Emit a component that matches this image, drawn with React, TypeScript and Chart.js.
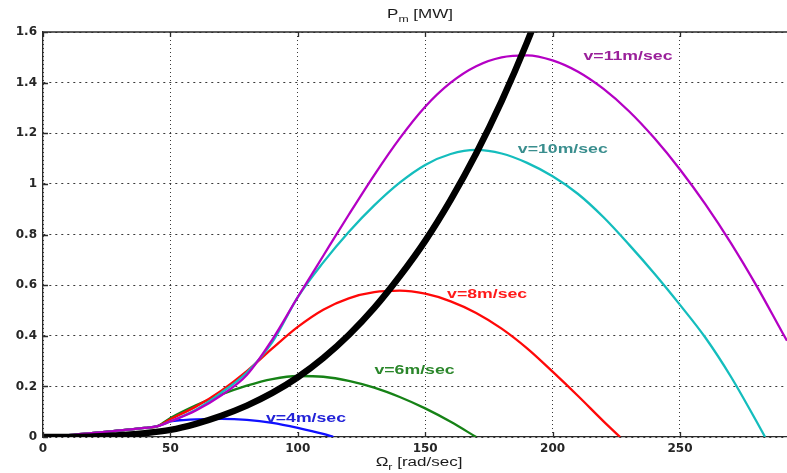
import { useEffect, useRef } from "react";
import { Chart, registerables } from "chart.js";

Chart.register(...registerables);

// ---- data ----
const optOmega = [0, 10, 20, 30, 40, 50, 60, 70, 80, 90, 100, 110, 120, 130, 140, 150, 160, 170, 180, 190, 200];
const optPower = [0, 0.0003, 0.002, 0.007, 0.015, 0.028, 0.052, 0.084, 0.124, 0.174, 0.236, 0.312, 0.403, 0.51, 0.635, 0.775, 0.937, 1.12, 1.327, 1.56, 1.82];

const v4Omega = [0, 10, 20, 30, 40, 45, 50, 55, 60, 70, 80, 90, 100, 110, 114];
const v4Power = [0, 0.007, 0.016, 0.026, 0.036, 0.043, 0.062, 0.067, 0.07, 0.072, 0.068, 0.056, 0.036, 0.012, 0];

const v6Omega = [0, 10, 20, 30, 40, 45, 50, 60, 70, 80, 90, 100, 110, 120, 130, 140, 150, 160, 170];
const v6Power = [0, 0.007, 0.016, 0.026, 0.036, 0.043, 0.075, 0.125, 0.168, 0.203, 0.229, 0.241, 0.238, 0.222, 0.195, 0.158, 0.113, 0.06, 0];

const v8Omega = [0, 10, 20, 30, 40, 45, 50, 60, 70, 80, 90, 100, 110, 120, 130, 140, 150, 160, 170, 180, 190, 200, 210, 220, 226.5];
const v8Power = [0, 0.007, 0.016, 0.026, 0.036, 0.043, 0.07, 0.12, 0.183, 0.26, 0.35, 0.435, 0.503, 0.548, 0.572, 0.578, 0.566, 0.536, 0.49, 0.428, 0.35, 0.258, 0.162, 0.062, 0];

const v10Omega = [0, 10, 20, 30, 40, 45, 50, 60, 70, 80, 90, 100, 110, 120, 130, 140, 150, 160, 170, 180, 190, 200, 210, 220, 230, 240, 250, 260, 270, 280, 283.4];
const v10Power = [0, 0.007, 0.016, 0.026, 0.036, 0.043, 0.062, 0.108, 0.175, 0.255, 0.375, 0.553, 0.69, 0.81, 0.915, 1.005, 1.075, 1.118, 1.134, 1.12, 1.083, 1.03, 0.96, 0.868, 0.76, 0.645, 0.522, 0.392, 0.238, 0.062, 0];

const v11Omega = [0, 10, 20, 30, 40, 45, 50, 60, 70, 80, 90, 100, 110, 120, 130, 140, 150, 160, 170, 180, 190, 200, 210, 220, 230, 240, 250, 260, 270, 280, 290, 292];
const v11Power = [0, 0.007, 0.016, 0.026, 0.036, 0.043, 0.062, 0.105, 0.165, 0.245, 0.385, 0.553, 0.716, 0.878, 1.035, 1.18, 1.305, 1.4, 1.465, 1.5, 1.508, 1.488, 1.443, 1.375, 1.287, 1.18, 1.057, 0.919, 0.766, 0.598, 0.416, 0.38];

const xTickValues = [0, 50, 100, 150, 200, 250];
const yTickValues = [0, 0.2, 0.4, 0.6, 0.8, 1, 1.2, 1.4, 1.6];
const yTickLabels = ["0", "0.2", "0.4", "0.6", "0.8", "1", "1.2", "1.4", "1.6"];

const curveLabels = ["v=11m/sec", "v=10m/sec", "v=8m/sec", "v=6m/sec", "v=4m/sec"];
const curveLabelAnchorX = [229.6, 204, 174.3, 145.8, 103.2];
const curveLabelAnchorY = [1.502, 1.138, 0.565, 0.263, 0.075];
const curveLabelColors = ["#9a209a", "#3a8e8e", "#ff1a1a", "#2a862a", "#2222d8"];

const SX = 1.36; // horizontal stretch of the original figure's text

function pts(xs: number[], ys: number[]) {
  return xs.map((x, i) => ({ x, y: ys[i] }));
}

function drawStretched(ctx: CanvasRenderingContext2D, text: string, x: number, y: number) {
  ctx.save();
  ctx.translate(x, y);
  ctx.scale(SX, 1);
  ctx.fillText(text, 0, 0);
  ctx.restore();
}

const overlay = {
  id: "overlay",
  afterDatasetsDraw(chart: any) {
    const ctx: CanvasRenderingContext2D = chart.ctx;
    const { left, right, top, bottom } = chart.chartArea;
    const xs = chart.scales.x;
    const ys = chart.scales.y;
    ctx.save();
    ctx.strokeStyle = "#2b2b2b";
    ctx.lineWidth = 1.3;
    ctx.beginPath();
    ctx.moveTo(left, top);
    ctx.lineTo(right, top);
    xTickValues.forEach((v) => {
      const px = Math.round(xs.getPixelForValue(v)) + 0.5;
      ctx.moveTo(px, bottom);
      ctx.lineTo(px, bottom - 5);
      ctx.moveTo(px, top);
      ctx.lineTo(px, top + 5);
    });
    yTickValues.forEach((v) => {
      const py = Math.round(ys.getPixelForValue(v)) + 0.5;
      ctx.moveTo(left, py);
      ctx.lineTo(left + 5, py);
    });
    ctx.stroke();
    ctx.restore();
  },
  afterDraw(chart: any) {
    const ctx: CanvasRenderingContext2D = chart.ctx;
    const { left, right } = chart.chartArea;
    const xs = chart.scales.x;
    const ys = chart.scales.y;
    ctx.save();
    ctx.font = "bold 13px 'Liberation Sans', Arial, sans-serif";
    ctx.textBaseline = "middle";
    ctx.textAlign = "left";
    curveLabels.forEach((t, i) => {
      ctx.fillStyle = curveLabelColors[i];
      const w = ctx.measureText(t).width * SX;
      drawStretched(ctx, t, xs.getPixelForValue(curveLabelAnchorX[i]) - w / 2, ys.getPixelForValue(curveLabelAnchorY[i]));
    });
    ctx.restore();

    const drawSub = (main: string, sub: string, rest: string, cx: number, baseline: number) => {
      ctx.save();
      ctx.fillStyle = "#1a1a1a";
      ctx.textBaseline = "alphabetic";
      ctx.textAlign = "left";
      const mainFont = "12.5px 'Liberation Sans', Arial, sans-serif";
      const subFont = "9px 'Liberation Sans', Arial, sans-serif";
      ctx.font = mainFont;
      const w1 = ctx.measureText(main).width * SX;
      const w3 = ctx.measureText(rest).width * SX;
      ctx.font = subFont;
      const w2 = ctx.measureText(sub).width * SX;
      let x = cx - (w1 + w2 + w3) / 2;
      ctx.font = mainFont;
      drawStretched(ctx, main, x, baseline);
      x += w1;
      ctx.font = subFont;
      drawStretched(ctx, sub, x, baseline + 4);
      x += w2;
      ctx.font = mainFont;
      drawStretched(ctx, rest, x, baseline);
      ctx.restore();
    };
    const cx = (left + right) / 2;
    drawSub("P", "m", " [MW]", cx + 5, 18);
    drawSub("\u03A9", "r", " [rad/sec]", cx + 4, 466);
  },
};

export default function App() {
  const ref = useRef<HTMLCanvasElement | null>(null);
  useEffect(() => {
    document.body.style.margin = "0";
    const canvas = ref.current;
    if (!canvas) return;
    const colored = (data: any, color: string) => ({
      data,
      borderColor: color,
      borderWidth: 2.3,
      pointRadius: 0,
      fill: false,
      cubicInterpolationMode: "monotone" as const,
    });
    const chart = new Chart(canvas, {
      type: "line",
      data: {
        datasets: [
          {
            data: pts(optOmega, optPower),
            borderColor: "#000000",
            borderWidth: 6.5,
            pointRadius: 0,
            fill: false,
            cubicInterpolationMode: "monotone",
            clip: 0,
          } as any,
          colored(pts(v11Omega, v11Power), "#b400c4"),
          colored(pts(v10Omega, v10Power), "#14bdbd"),
          colored(pts(v8Omega, v8Power), "#ff0808"),
          colored(pts(v6Omega, v6Power), "#168216"),
          colored(pts(v4Omega, v4Power), "#1010ff"),
        ],
      },
      options: {
        responsive: false,
        animation: false,
        devicePixelRatio: 1,
        layout: { padding: { left: 0, right: 0, top: 32, bottom: 0 } },
        plugins: {
          legend: { display: false },
          tooltip: { enabled: false },
          title: { display: false },
        },
        scales: {
          x: {
            type: "linear",
            min: 0,
            max: 292,
            afterBuildTicks: (s: any) => {
              s.ticks = xTickValues.map((v) => ({ value: v }));
            },
            afterFit: (s: any) => {
              s.height = 36;
            },
            ticks: {
              padding: 5,
              color: "#262626",
              font: { family: "'DejaVu Sans', sans-serif", size: 12, weight: "bold" },
              callback: (v: any) => String(v),
              maxRotation: 0,
            },
            grid: { color: "#3a3a3a", lineWidth: 1, drawTicks: false },
            border: { color: "#2b2b2b", width: 1.3, dash: [1, 3] },
          },
          y: {
            type: "linear",
            min: 0,
            max: 1.6,
            afterBuildTicks: (s: any) => {
              s.ticks = yTickValues.map((v) => ({ value: v }));
            },
            afterFit: (s: any) => {
              s.width = 43;
            },
            ticks: {
              padding: 6,
              color: "#262626",
              font: { family: "'DejaVu Sans', sans-serif", size: 12, weight: "bold" },
              callback: (v: any) => {
                const i = yTickValues.findIndex((t) => Math.abs(t - v) < 1e-9);
                return i >= 0 ? yTickLabels[i] : "";
              },
            },
            grid: { color: "#3a3a3a", lineWidth: 1, drawTicks: false },
            border: { color: "#2b2b2b", width: 1.3, dash: [2, 4] },
          },
        },
      } as any,
      plugins: [overlay],
    });
    return () => chart.destroy();
  }, []);
  return <canvas ref={ref} width={787} height={473} style={{ display: "block" }} />;
}
